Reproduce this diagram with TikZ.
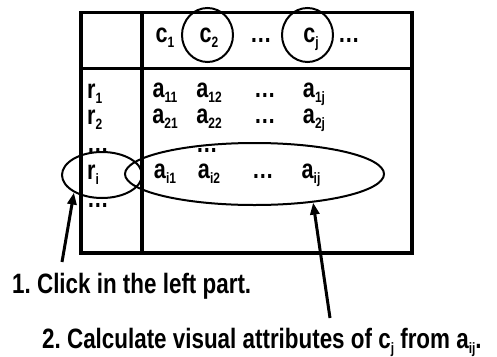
\documentclass[tikz,border=0pt]{standalone}
\usepackage{fontspec}
\setmainfont[FakeStretch=0.8]{Liberation Sans}
\usetikzlibrary{arrows.meta, shapes.geometric}
\newcommand{\sbs}[1]{\raisebox{-5pt}{\fontsize{15}{15}\selectfont #1}}
\frenchspacing

\begin{document}
\begin{tikzpicture}[x=1pt, y=-1pt,
  cell/.style={font=\fontsize{27}{30}\selectfont\bfseries, inner sep=0pt, anchor=base},
  lcell/.style={cell, anchor=base west},
  caption/.style={font=\fontsize{28}{32}\selectfont\bfseries, inner sep=0pt, anchor=base west},
  grid/.style={line width=3.5pt},
  hilite/.style={ellipse, draw, line width=2pt, inner sep=0pt},
  pointer/.style={-{Triangle[length=12pt,width=9pt]}, line width=3pt},
]
\useasboundingbox (0,0) rectangle (497,356);

% --- table frame ---
\draw[grid] (81,12.5) rectangle (412,253);
\draw[grid] (142,12.5) -- (142,253);
\draw[grid] (81,68.5) -- (412,68.5);

% --- column heads ---
\node[cell] (hc1)    at (165,42) {c\sbs{1}};
\node[cell] (hc2)    at (209,42) {c\sbs{2}};
\node[cell] (hcdots) at (261,42) {…};
\node[cell] (hcj)    at (311,42) {c\sbs{j}};
\node[lcell] (hcmore) at (338,42) {…};

% --- row heads ---
\node[lcell] (r1)    at (87,98)  {r\sbs{1}};
\node[lcell] (r2)    at (87,124) {r\sbs{2}};
\node[lcell] (rdots) at (87,152) {…};
\node[lcell] (ri)    at (87,179) {r\sbs{i}};
\node[lcell] (rmore) at (87,207) {…};

% --- cells ---
\node[cell] (a11) at (165,97)  {a\sbs{11}};
\node[cell] (a12) at (209,97)  {a\sbs{12}};
\node[cell] (a1d) at (265,97)  {…};
\node[cell] (a1j) at (314,97)  {a\sbs{1j}};
\node[cell] (a21) at (165,123) {a\sbs{21}};
\node[cell] (a22) at (209,123) {a\sbs{22}};
\node[cell] (a2d) at (265,123) {…};
\node[cell] (a2j) at (314,123) {a\sbs{2j}};
\node[cell] (add) at (207,152) {…};
\node[cell] (ai1) at (165,178) {a\sbs{i1}};
\node[cell] (ai2) at (209,178) {a\sbs{i2}};
\node[cell] (aid) at (263,178) {…};
\node[cell] (aij) at (311,178) {a\sbs{ij}};

% --- highlights ---
\node[hilite, minimum width=51pt, minimum height=54pt] (c2sel) at (207.5,35) {};
\node[hilite, minimum width=51pt, minimum height=54pt] (cjsel) at (307.5,35) {};
\node[hilite, minimum width=80pt, minimum height=46pt] (rsel) at (102,175) {};
\node[hilite, minimum width=259pt, minimum height=62pt] (asel) at (254.5,174) {};

% --- pointers and notes ---
\coordinate (tail1) at (62,262);
\coordinate (tail2) at (330,318);
\draw[pointer] (tail1) -- (rsel.212);
\draw[pointer] (tail2) -- (asel.334);

\node[caption] (note1) at (12,293) {1. Click in the left part.};
\node[caption] (note2) at (42,348) {2. Calculate visual attributes of c\sbs{j} from a\sbs{ij}.};
\end{tikzpicture}
\end{document}
